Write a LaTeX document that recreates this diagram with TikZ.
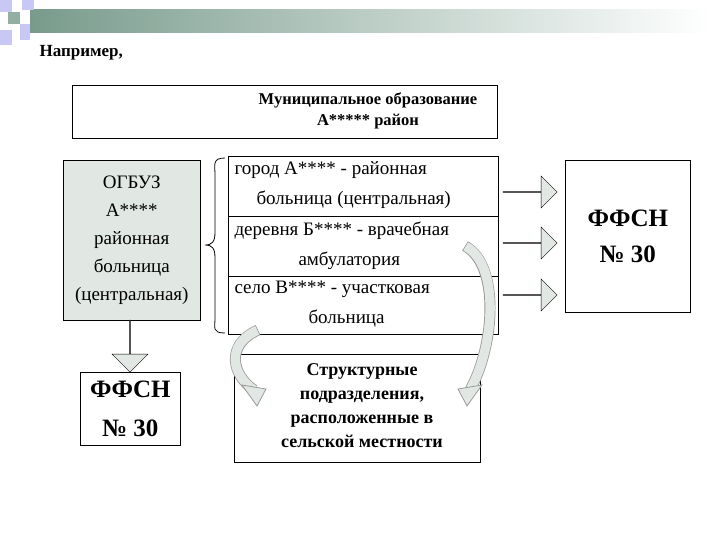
\documentclass[tikz,border=0pt]{standalone}
\usepackage{fontspec}
\setmainfont{Liberation Serif}
\usetikzlibrary{shapes.arrows,arrows.meta,calc}
\definecolor{bargreen}{RGB}{120,155,140}
\definecolor{lav}{RGB}{200,200,245}
\definecolor{boxgray}{RGB}{225,232,228}

\tikzset{
  box/.style={draw,line width=0.6pt},
  blk/.style={single arrow,draw,fill=boxgray,minimum height=54pt,minimum width=32pt,single arrow head extend=9pt,inner sep=0pt},
  curvy/.style={draw=gray!80,line width=11pt},
  curvyin/.style={draw=boxgray,line width=9.4pt},
}

\begin{document}
\begin{tikzpicture}[x=1pt,y=-1pt]
  \useasboundingbox (0,0) rectangle (720,540);

  % header
  \shade[left color=bargreen,right color=white] (30,10) rectangle (710,33);
  \fill[lav] (0,0) rectangle (12,12);
  \fill[lav] (22,0) rectangle (34,10);
  \fill[bargreen!80] (8,12) rectangle (20,24);
  \fill[lav] (20,24) rectangle (30,40);
  \fill[lav] (0,30) rectangle (12,45);
  \node[anchor=west,font=\fontsize{17}{19}\selectfont\bfseries] (title) at (36,53) {Например,};

  % top box
  \node[box,minimum width=425pt,minimum height=53pt,anchor=north west] (mun) at (72,85) {};
  \node[font=\fontsize{16.5}{21}\selectfont\bfseries,align=center] (muntxt) at (368,111)
    {Муниципальное образование\\А***** район};

  % left part
  \node[box,fill=boxgray,minimum width=137pt,minimum height=160pt,anchor=north west] (ogbuz) at (63,160) {};
  \node[font=\fontsize{19}{28}\selectfont,align=center] at (ogbuz.center)
    {ОГБУЗ\\А****\\районная\\больница\\(центральная)};
  \node[box,minimum width=100pt,minimum height=73pt,anchor=north west] (ffsnl) at (80,372) {};
  \node[font=\fontsize{25}{39}\selectfont\bfseries,align=center] at (ffsnl.center) {ФФСН\\№ 30};
  \node[blk,rotate=-90,minimum height=52pt,minimum width=36pt] (down) at (130,346) {};

  % brace
  \draw[line width=0.8pt] (225,158) .. controls (212,158) and (215,165) .. (215,175)
    -- (215,232) .. controls (215,242) and (212,245) .. (205,245)
    .. controls (212,245) and (215,248) .. (215,258) -- (215,318)
    .. controls (215,328) and (212,333) .. (225,333);

  % middle box
  \node[box,minimum width=270pt,minimum height=178pt,anchor=north west] (mid) at (228,156) {};
  \draw[line width=0.6pt] (228,216) -- (498,216);
  \draw[line width=0.6pt] (228,276) -- (498,276);
  \node[font=\fontsize{19}{30}\selectfont,align=left,anchor=north west] (r1) at (231,158)
    {город А**** - районная\\\hspace*{22pt}больница (центральная)};
  \node[font=\fontsize{19}{30}\selectfont,align=left,anchor=north west] (r2) at (231,218)
    {деревня Б**** - врачебная\\\hspace*{64pt}амбулатория};
  \node[font=\fontsize{19}{30}\selectfont,align=left,anchor=north west] (r3) at (231,278)
    {село В**** - участковая\\\hspace*{74pt}больница};

  % right part
  \node[blk] (a1) at (530,192) {};
  \node[blk] (a2) at (530,243) {};
  \node[blk] (a3) at (530,295) {};
  \node[box,minimum width=125pt,minimum height=152pt,anchor=north west] (ffsnr) at (565,160) {};
  \node[font=\fontsize{25}{36}\selectfont\bfseries,align=center] at (ffsnr.center) {ФФСН\\№ 30};

  % bottom box
  \node[box,minimum width=246pt,minimum height=108pt,anchor=north west] (struct) at (234,354) {};
  \node[font=\fontsize{18}{24}\selectfont\bfseries,align=center] at (362,406)
    {Структурные\\подразделения,\\расположенные в\\сельской местности};

  % curved arrows
  \coordinate (s1) at (258,330);
  \coordinate (e1) at (254,390);
  \coordinate (s2) at (465,246);
  \coordinate (e2) at (470,390);
  \draw[curvy] (s1) .. controls (225,345) and (232,375) .. (e1);
  \draw[curvyin,shorten <=0.8pt] (s1) .. controls (225,345) and (232,375) .. (e1);
  \draw[curvy] (s2) .. controls (500,265) and (495,345) .. (e2);
  \draw[curvyin,shorten <=0.8pt] (s2) .. controls (500,265) and (495,345) .. (e2);
  \draw[fill=boxgray,draw=gray!80,line width=0.8pt] ($(e1)+(-12,-5)$) -- ($(e1)+(12,-1)$) -- ($(e1)+(3,16)$) -- cycle;
  \draw[fill=boxgray,draw=gray!80,line width=0.8pt] ($(e2)+(-12,-1)$) -- ($(e2)+(12,-5)$) -- ($(e2)+(-3,16)$) -- cycle;
\end{tikzpicture}
\end{document}
